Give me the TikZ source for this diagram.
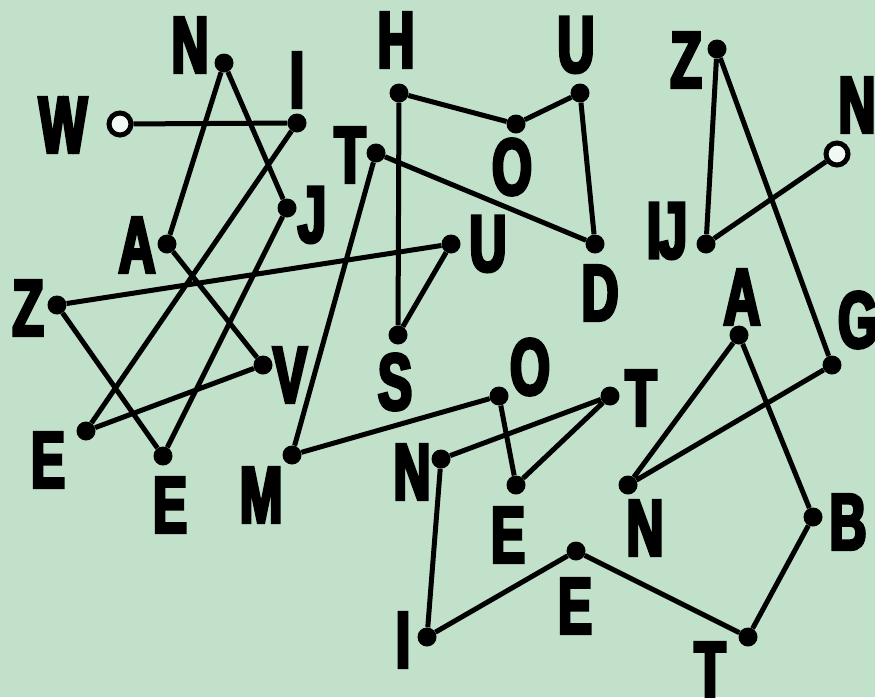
\documentclass[tikz,border=0pt]{standalone}
\usepackage{fontspec}
\newfontfamily\lblfont[FakeStretch=0.64,FakeBold=4]{Liberation Sans Bold}
\definecolor{bg}{HTML}{C1E1CB}
\definecolor{holefill}{HTML}{F2F8F4}
\tikzset{
  dot/.style={circle,fill=black,inner sep=0pt,minimum size=19pt},
  hole/.style={circle,draw=black,line width=5pt,fill=holefill,inner sep=0pt,minimum size=22pt},
  lbl/.style={inner sep=0pt,anchor=center,font=\lblfont\fontsize{80}{80}\selectfont},
  link/.style={line width=5pt,line join=round}
}
\begin{document}
\begin{tikzpicture}[x=1pt,y=-1pt]
\fill[bg] (0,0) rectangle (875,697);
\useasboundingbox (0,0) rectangle (875,697);
% points
\node[hole] (W) at (120,124) {};
\node[dot] (I1) at (297,123) {};
\node[dot] (E1) at (86,431) {};
\node[dot] (V) at (263,365) {};
\node[dot] (A1) at (167,244) {};
\node[dot] (N1) at (224,63) {};
\node[dot] (J) at (287,208) {};
\node[dot] (E2) at (163,456) {};
\node[dot] (Z1) at (57,305) {};
\node[dot] (U1) at (451,244) {};
\node[dot] (S) at (398,335) {};
\node[dot] (H) at (399,93) {};
\node[dot] (O1) at (516,124) {};
\node[dot] (U2) at (580,93) {};
\node[dot] (D) at (595,244) {};
\node[dot] (T1) at (376,153) {};
\node[dot] (M) at (292,455) {};
\node[dot] (O2) at (499,396) {};
\node[dot] (E3) at (516,485) {};
\node[dot] (T2) at (610,396) {};
\node[dot] (N2) at (441,459) {};
\node[dot] (I2) at (427,637) {};
\node[dot] (E4) at (576,551) {};
\node[dot] (T3) at (748,637) {};
\node[dot] (B) at (813,517) {};
\node[dot] (A2) at (739,335) {};
\node[dot] (N3) at (628,485) {};
\node[dot] (G) at (832,365) {};
\node[dot] (Z2) at (717,49) {};
\node[dot] (IJ) at (706,244) {};
\node[hole] (N4) at (837,154) {};
% path
\draw[link] (W) -- (I1) -- (E1) -- (V) -- (A1) -- (N1) -- (J) -- (E2) -- (Z1) -- (U1) -- (S) -- (H) -- (O1) -- (U2) -- (D) -- (T1) -- (M) -- (O2) -- (E3) -- (T2) -- (N2) -- (I2) -- (E4) -- (T3) -- (B) -- (A2) -- (N3) -- (G) -- (Z2) -- (IJ) -- (N4);
% labels
\node[lbl] (lW) at (63,125) {W};
\node[lbl] (lI1) at (297,80) {I};
\node[lbl] (lE1) at (48,460) {E};
\node[lbl] (lV) at (290,375) {V};
\node[lbl] (lA1) at (137,245) {A};
\node[lbl] (lN1) at (190,45) {N};
\node[lbl] (lJ) at (312,215) {J};
\node[lbl] (lE2) at (170,505) {E};
\node[lbl] (lZ1) at (28,308) {Z};
\node[lbl] (lU1) at (488,244) {U};
\node[lbl] (lS) at (395,382) {S};
\node[lbl] (lH) at (396,40) {H};
\node[lbl] (lO1) at (512,167) {O};
\node[lbl] (lU2) at (576,45) {U};
\node[lbl] (lD) at (600,293) {D};
\node[lbl] (lT1) at (350,155) {T};
\node[lbl] (lM) at (261,495) {M};
\node[lbl] (lO2) at (530,367) {O};
\node[lbl] (lE3) at (508,535) {E};
\node[lbl] (lT2) at (641,398) {T};
\node[lbl] (lN2) at (412,472) {N};
\node[lbl] (lI2) at (403,640) {I};
\node[lbl] (lE4) at (575,606) {E};
\node[lbl] (lT3) at (710,670) {T};
\node[lbl] (lB) at (848,522) {B};
\node[lbl] (lA2) at (742,297) {A};
\node[lbl] (lN3) at (645,528) {N};
\node[lbl] (lG) at (858,320) {G};
\node[lbl] (lZ2) at (686,60) {Z};
\node[lbl] (lIJ) at (667,231) {I\kern-0.03em J};
\node[lbl] (lN4) at (857,105) {N};
\end{tikzpicture}
\end{document}
